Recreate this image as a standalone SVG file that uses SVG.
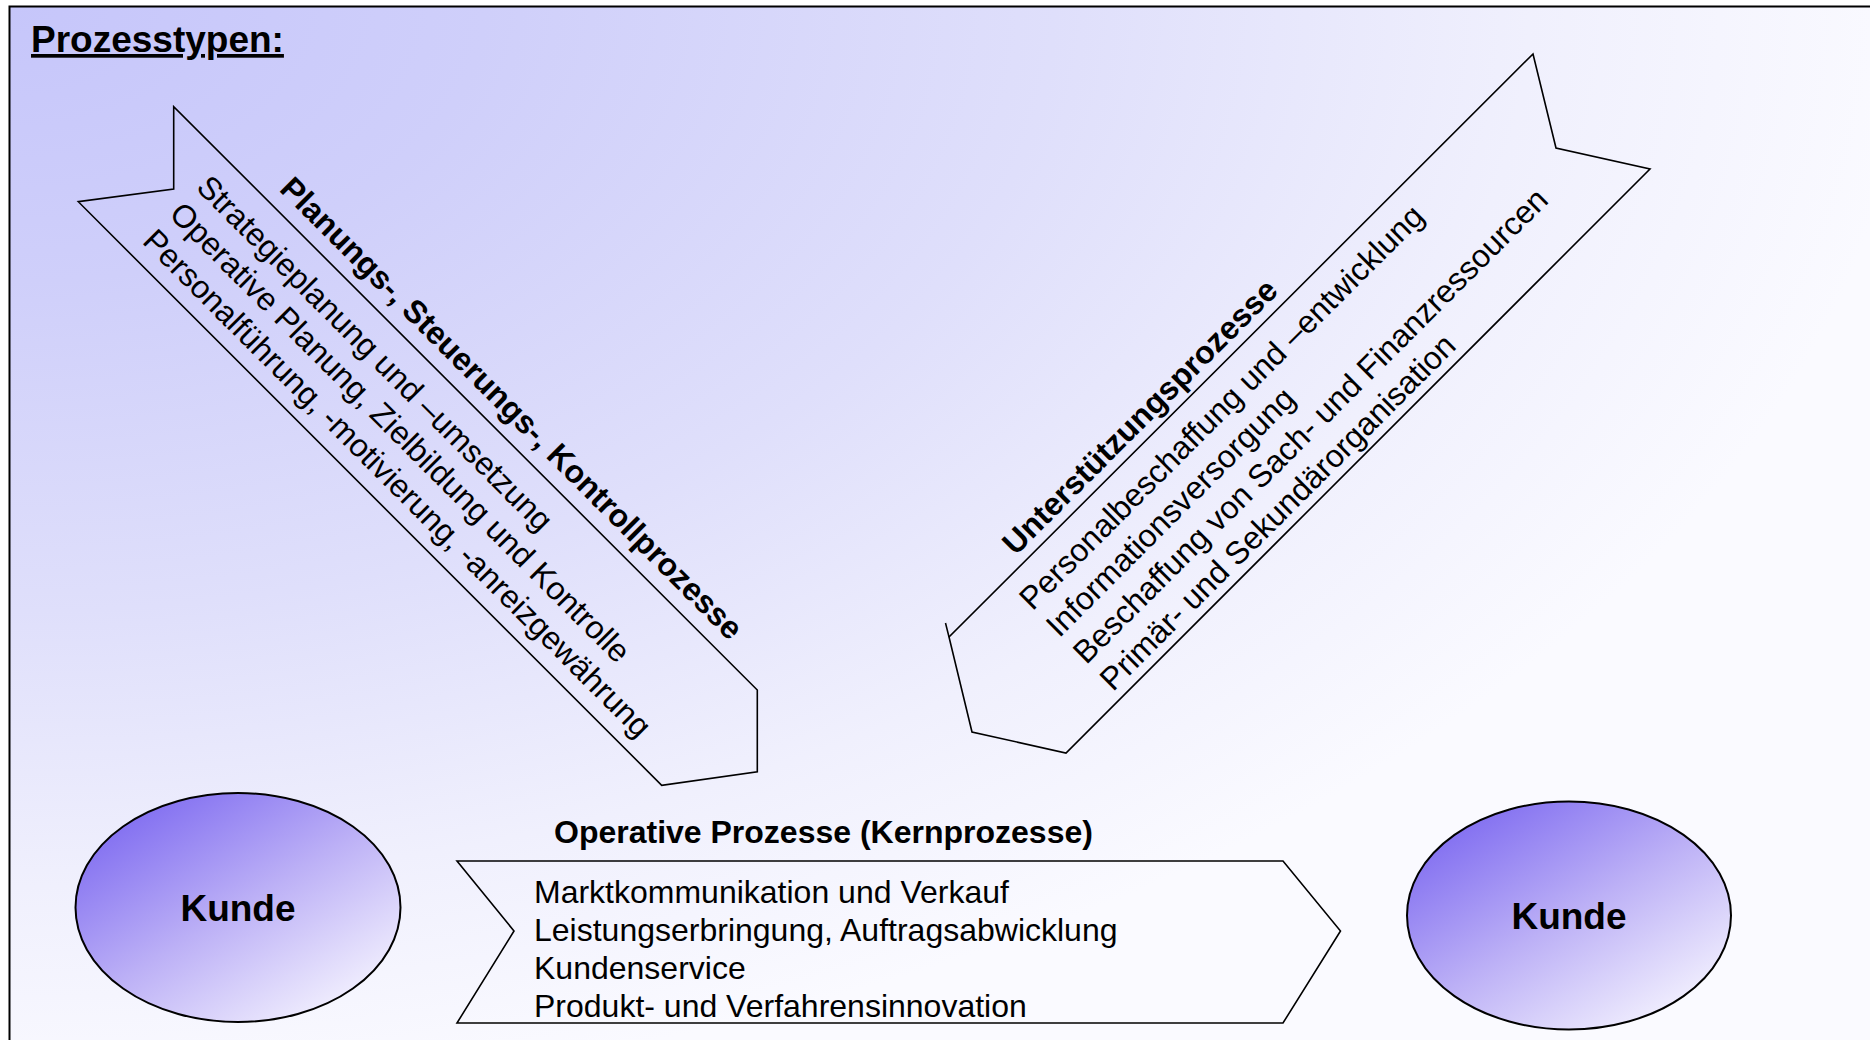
<svg xmlns="http://www.w3.org/2000/svg" width="1870" height="1040" viewBox="0 0 1870 1040">
  <defs>
    <radialGradient id="bg" cx="0" cy="0" r="1" gradientUnits="objectBoundingBox">
      <stop offset="0" stop-color="#c6c6fa"/>
      <stop offset="0.25" stop-color="#cfcffa"/>
      <stop offset="0.55" stop-color="#dfdffb"/>
      <stop offset="0.8" stop-color="#f0f0fd"/>
      <stop offset="1" stop-color="#fafaff"/>
    </radialGradient>
    <linearGradient id="kunde" x1="0.1" y1="0.05" x2="0.9" y2="0.95">
      <stop offset="0" stop-color="#7a66f0"/>
      <stop offset="0.5" stop-color="#bcb0f6"/>
      <stop offset="1" stop-color="#f8f7ff"/>
    </linearGradient>
    <style>
      .shape { fill: none; stroke: #000; stroke-width: 1.6; stroke-linejoin: miter; }
      .oval { fill: url(#kunde); stroke: #000; stroke-width: 2; }
      .txt { font-family: "Liberation Sans", Arial, Helvetica, sans-serif; font-size: 32px; fill: #000; }
      .bold { font-weight: bold; }
      .kunde { font-family: "Liberation Sans", Arial, Helvetica, sans-serif; font-size: 37px; font-weight: bold; text-anchor: middle; }
      .title { font-family: "Liberation Sans", Arial, Helvetica, sans-serif; font-size: 37px; font-weight: bold; text-decoration: underline; }
    </style>
  </defs>

  <!-- page and framed panel -->
  <rect width="1870" height="1040" fill="#ffffff"/>
  <rect x="9.5" y="6.5" width="1900" height="1100" fill="url(#bg)" stroke="#000" stroke-width="2"/>

  <text id="title" class="title" x="31" y="52">Prozesstypen:</text>

  <!-- management processes: chevron pointing down-right -->
  <g id="planung">
    <polygon class="shape" points="173.7,106.7 173.7,189 78.3,201.7 661.7,785.3 757.3,771.7 757.3,690"/>
    <g transform="translate(173.7,106.7) rotate(45)">
      <text class="txt bold" x="133" y="-15">Planungs-, Steuerungs-, Kontrollprozesse</text>
      <text class="txt" x="73" y="43">Strategieplanung und –umsetzung</text>
      <text class="txt" x="73" y="81">Operative Planung, Zielbildung und Kontrolle</text>
      <text class="txt" x="73" y="119">Personalführung, -motivierung, -anreizgewährung</text>
    </g>
  </g>

  <!-- support processes: chevron pointing down-left -->
  <g id="unterstuetzung">
    <polygon class="shape" points="1533,54 1556,148 1650,169 1066,753 972,732 949,637"/>
    <path class="shape" d="M949,637 L945.5,623"/>
    <g transform="translate(949,637) rotate(-45)">
      <text class="txt bold" x="104" y="-10">Unterstützungsprozesse</text>
      <text class="txt" x="77" y="41">Personalbeschaffung und –entwicklung</text>
      <text class="txt" x="77" y="79">Informationsversorgung</text>
      <text class="txt" x="77" y="117">Beschaffung von Sach- und Finanzressourcen</text>
      <text class="txt" x="77" y="155">Primär- und Sekundärorganisation</text>
    </g>
  </g>

  <!-- core processes: horizontal chevron -->
  <g id="kernprozesse">
    <text class="txt bold" x="554" y="843">Operative Prozesse (Kernprozesse)</text>
    <polygon class="shape" points="457,861 1283,861 1340.5,931 1283,1023 457,1023 514,931"/>
    <text class="txt" x="534" y="903">Marktkommunikation und Verkauf</text>
    <text class="txt" x="534" y="941">Leistungserbringung, Auftragsabwicklung</text>
    <text class="txt" x="534" y="979">Kundenservice</text>
    <text class="txt" x="534" y="1017">Produkt- und Verfahrensinnovation</text>
  </g>

  <g id="kunde-links">
    <ellipse class="oval" cx="238" cy="907.5" rx="162.5" ry="114.5"/>
    <text class="kunde" x="238" y="921">Kunde</text>
  </g>

  <g id="kunde-rechts">
    <ellipse class="oval" cx="1569" cy="915.5" rx="162" ry="114"/>
    <text class="kunde" x="1569" y="929">Kunde</text>
  </g>

  <g id="connectors"/>
</svg>
